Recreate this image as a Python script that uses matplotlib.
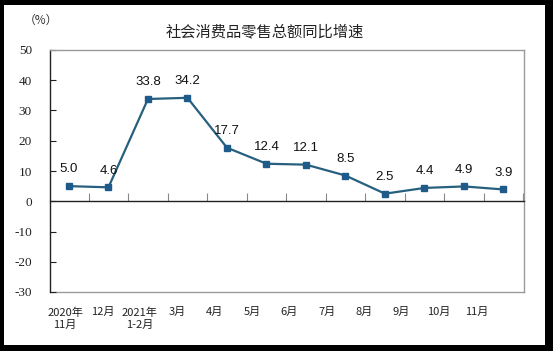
import matplotlib
matplotlib.use("Agg")
import matplotlib.pyplot as plt
from matplotlib.patches import Rectangle

categories = ["2020年\n11月", "12月", "2021年\n1-2月", "3月", "4月", "5月", "6月",
              "7月", "8月", "9月", "10月", "11月"]
values = [5.0, 4.6, 33.8, 34.2, 17.7, 12.4, 12.1, 8.5, 2.5, 4.4, 4.9, 3.9]
yticks = [50, 40, 30, 20, 10, 0, -10, -20, -30]
title = "社会消费品零售总额同比增速"
unit = "（%）"

W, H = 553, 351
fig = plt.figure(figsize=(W / 100, H / 100), dpi=100)
fig.patch.set_facecolor("black")
bg = Rectangle((4 / W, (H - 345) / H), (545 - 4) / W, (345 - 5) / H,
               transform=fig.transFigure, facecolor="white", edgecolor="none",
               zorder=-10)
fig.add_artist(bg)

L, R, T, B = 50, 524, 50, 292
ax = fig.add_axes([L / W, (H - B) / H, (R - L) / W, (B - T) / H])
ax.set_zorder(1)
ax.set_facecolor("white")

x = list(range(len(values)))
ax.plot(x, values, color="#27607E", lw=1.6, marker="s", ms=4.5,
        mfc="#1F5B8A", mec="#1F5B8A", zorder=3)

ax.set_xlim(-0.48, 11.52)
ax.set_ylim(-30, 50)

# data labels
for xi, v in zip(x, values):
    ax.annotate(f"{v:.1f}", (xi, v), xytext=(0, 12), textcoords="offset points",
                ha="center", va="center", fontsize=9.5, family="Liberation Sans",
                color="#111111")

# spines
for s in ["top", "right"]:
    ax.spines[s].set_color("#9a9a9a")
    ax.spines[s].set_linewidth(1.0)
ax.spines["left"].set_color("#222222")
ax.spines["left"].set_linewidth(1.0)
ax.spines["bottom"].set_position(("data", 0))
ax.spines["bottom"].set_color("#222222")
ax.spines["bottom"].set_linewidth(1.0)

# category boundary ticks on the zero line
ax.set_xticks([i + 0.5 for i in range(len(values))])
ax.tick_params(axis="x", direction="in", length=6, width=0.8, color="#888888",
               labelbottom=False)

ax.set_yticks(yticks)
ax.set_yticklabels([str(t) for t in yticks])
ax.tick_params(axis="y", direction="in", length=4, width=0.8, color="#222222",
               pad=13, labelsize=9.5, labelfontfamily="Liberation Serif",
               labelcolor="#222222")

# bottom frame and category labels
sec = ax.secondary_xaxis(0.0, functions=(lambda u: (u + 0.10) / 0.947,
                                         lambda t: t * 0.947 - 0.10))
sec.set_xticks(x)
sec.set_xticklabels(categories, family=["Noto Sans CJK SC", "DejaVu Sans"],
                    fontsize=8, linespacing=1.3, color="#222222")
sec.tick_params(length=0, pad=11)
sec.spines["bottom"].set_color("#9a9a9a")
sec.spines["bottom"].set_linewidth(1.0)

fig.text(265 / W, 1 - 32 / H, title, ha="center", va="center", fontsize=11,
         family=["Noto Sans CJK SC", "DejaVu Sans"], color="#222222")
fig.text(41 / W, 1 - 20 / H, unit, ha="center", va="center", fontsize=8.5,
         family=["Noto Sans CJK SC", "DejaVu Sans"], color="#333333")

fig.savefig("out.png", dpi=100, facecolor=fig.get_facecolor())
